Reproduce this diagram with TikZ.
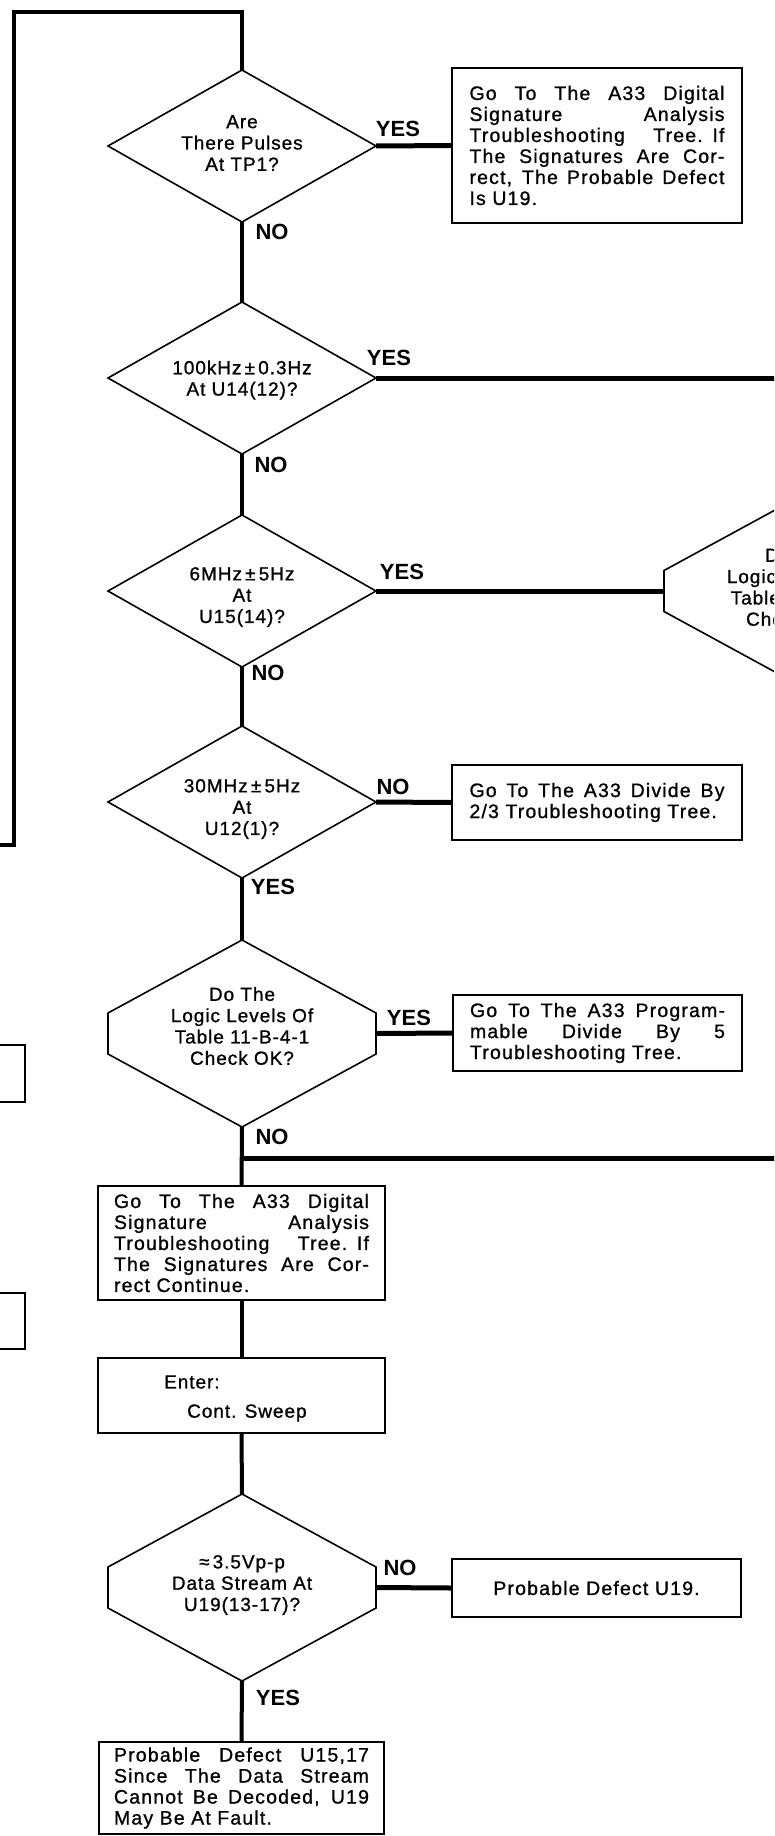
\documentclass[tikz,border=0pt]{standalone}
\usepackage{fontspec}
\setmainfont{Liberation Sans}
\newfontfamily\bodyfont[LetterSpace=5,FakeBold=1]{Liberation Sans}
\newfontfamily\boxfont[LetterSpace=6,FakeBold=1]{Liberation Sans}
\usetikzlibrary{shapes.geometric,calc}
\newcommand\jl[1]{\leavevmode\hbox to 255pt{\spaceskip=0.3em plus 1fil\relax #1}}
\newcommand\hexdraw[1]{\draw[shapeline] (#1.north) -- ($(#1.west)+(0,-20.5)$) -- ($(#1.west)+(0,20.5)$) -- (#1.south) -- ($(#1.east)+(0,20.5)$) -- ($(#1.east)+(0,-20.5)$) -- cycle;}
\begin{document}
\begin{tikzpicture}[x=1pt,y=-1pt,
  flow/.style={line width=4pt},
  yesline/.style={line width=5pt},
  shapeline/.style={line width=1.6pt, line join=miter},
  dia/.style={diamond, draw, line width=1.6pt, minimum width=268pt, minimum height=152pt, inner sep=0pt, outer sep=0pt},
  hexa/.style={rectangle, minimum width=268pt, minimum height=187pt, inner sep=0pt, outer sep=0pt},
  box/.style={rectangle, draw, line width=2.2pt, inner sep=1pt, outer sep=0pt, font=\boxfont\fontsize{19.5}{21}\selectfont},
  txt/.style={font=\bodyfont\fontsize{19}{21.3}\selectfont, align=center, inner sep=0pt},
  lab/.style={font=\fontsize{22}{22}\selectfont\bfseries, inner sep=0pt}]
\useasboundingbox (0,0) rectangle (774,1836);
\clip (0,0) rectangle (774,1836);

% decision shapes
\node[dia] (d1) at (242,146) {};
\node[dia] (d2) at (242,378) {};
\node[dia] (d3) at (242,591) {};
\node[dia] (d4) at (242,802) {};
\node[hexa] (h5) at (242,1033.5) {};
\node[hexa] (h8) at (242,1587.5) {};
\node[hexa] (hr) at (798,591) {};
\hexdraw{h5}
\hexdraw{h8}
\hexdraw{hr}

% texts in decisions
\node[txt] (d1t) at (242,143) {Are\\There Pulses\\At TP1?};
\node[txt] (d2t) at (242,380) {100kHz\thinspace±\thinspace0.3Hz\\At U14(12)?};
\node[txt] (d3t) at (242,597) {6MHz\thinspace±\thinspace5Hz\\At\\U15(14)?};
\node[txt] (d4t) at (242,809) {30MHz\thinspace±\thinspace5Hz\\At\\U12(1)?};
\node[txt] (h5t) at (242,1026) {Do The\\Logic Levels Of\\Table 11-B-4-1\\Check OK?};
\node[txt] (h8t) at (242,1585) {≈\thinspace3.5Vp-p\\Data Stream At\\U19(13-17)?};
\node[txt] (hrt) at (798,587) {Do The\\Logic Levels Of\\Table 11-B-4-1\\Check OK?};

% boxes
\node[box, minimum width=290pt, minimum height=155pt, text width=255pt, align=left] (b1) at (597,145.5)
 {\jl{Go To The A33 Digital}\\\jl{Signature Analysis}\\\jl{Troubleshooting Tree. If}\\\jl{The Signatures Are Cor-}\\\jl{rect, The Probable Defect}\\Is U19.};
\node[box, minimum width=290pt, minimum height=75pt, text width=255pt, align=left] (b23) at (597,802.5)
 {\jl{Go To The A33 Divide By}\\2/3 Troubleshooting Tree.};
\node[box, minimum width=289pt, minimum height=76pt, text width=255pt, align=left] (bp) at (597.5,1033)
 {\jl{Go To The A33 Program-}\\\jl{mable Divide By 5}\\Troubleshooting Tree.};
\node[box, minimum width=287pt, minimum height=114pt, text width=255pt, align=left] (b6) at (241.5,1243)
 {\jl{Go To The A33 Digital}\\\jl{Signature Analysis}\\\jl{Troubleshooting Tree. If}\\\jl{The Signatures Are Cor-}\\rect Continue.};
\node[box, minimum width=287pt, minimum height=75pt] (b7) at (241.5,1395.5) {};
\node[txt, anchor=west] (b7a) at (164,1382) {Enter:};
\node[txt, anchor=west] (b7b) at (187,1413) {Cont. Sweep};
\node[box, minimum width=289pt, minimum height=58pt] (b9) at (596.5,1588) {Probable Defect U19.};
\node[box, minimum width=285pt, minimum height=92pt, text width=255pt, align=left] (b10) at (241.5,1788)
 {\jl{Probable Defect U15,17}\\\jl{Since The Data Stream}\\\jl{Cannot Be Decoded, U19}\\May Be At Fault.};
\node[box, minimum width=35pt, minimum height=57pt] (lb1) at (7.5,1073.5) {};
\node[box, minimum width=35pt, minimum height=56pt] (lb2) at (7.5,1321) {};

% free-end coordinates
\coordinate (inL) at (0,845);
\coordinate (c1) at (14,845);
\coordinate (c2) at (14,12);
\coordinate (c3) at (242,12);
\coordinate (r1) at (780,378);
\coordinate (j1) at (242,1158);
\coordinate (r2) at (780,1158);

% connectors
\draw[flow, line join=miter] (inL) -- (c1) -- (c2) -- (c3) -- (d1.north);
\draw[yesline] (d1.east) -- (b1.west);
\draw[flow] (d1.south) -- (d2.north);
\draw[yesline] (d2.east) -- (r1);
\draw[flow] (d2.south) -- (d3.north);
\draw[yesline] (d3.east) -- (hr.west);
\draw[flow] (d3.south) -- (d4.north);
\draw[yesline] (d4.east) -- (b23.west);
\draw[flow] (d4.south) -- (h5.north);
\draw[yesline] (h5.east) -- (bp.west);
\draw[flow] (h5.south) -- (b6.north);
\draw[yesline] (j1) -- (r2);
\draw[flow] (b6.south) -- (b7.north);
\draw[flow] (b7.south) -- (h8.north);
\draw[yesline] (h8.east) -- (b9.west);
\draw[flow] (h8.south) -- (b10.north);

% labels
\node[lab] (l1) at (398,129) {YES};
\node[lab] (l2) at (272,232) {NO};
\node[lab] (l3) at (389,358) {YES};
\node[lab] (l4) at (271,465) {NO};
\node[lab] (l5) at (402,572) {YES};
\node[lab] (l6) at (268,673) {NO};
\node[lab] (l7) at (393,787) {NO};
\node[lab] (l8) at (273,887) {YES};
\node[lab] (l9) at (409,1018) {YES};
\node[lab] (l10) at (272,1137) {NO};
\node[lab] (l11) at (400,1568) {NO};
\node[lab] (l12) at (278,1698) {YES};
\end{tikzpicture}
\end{document}
